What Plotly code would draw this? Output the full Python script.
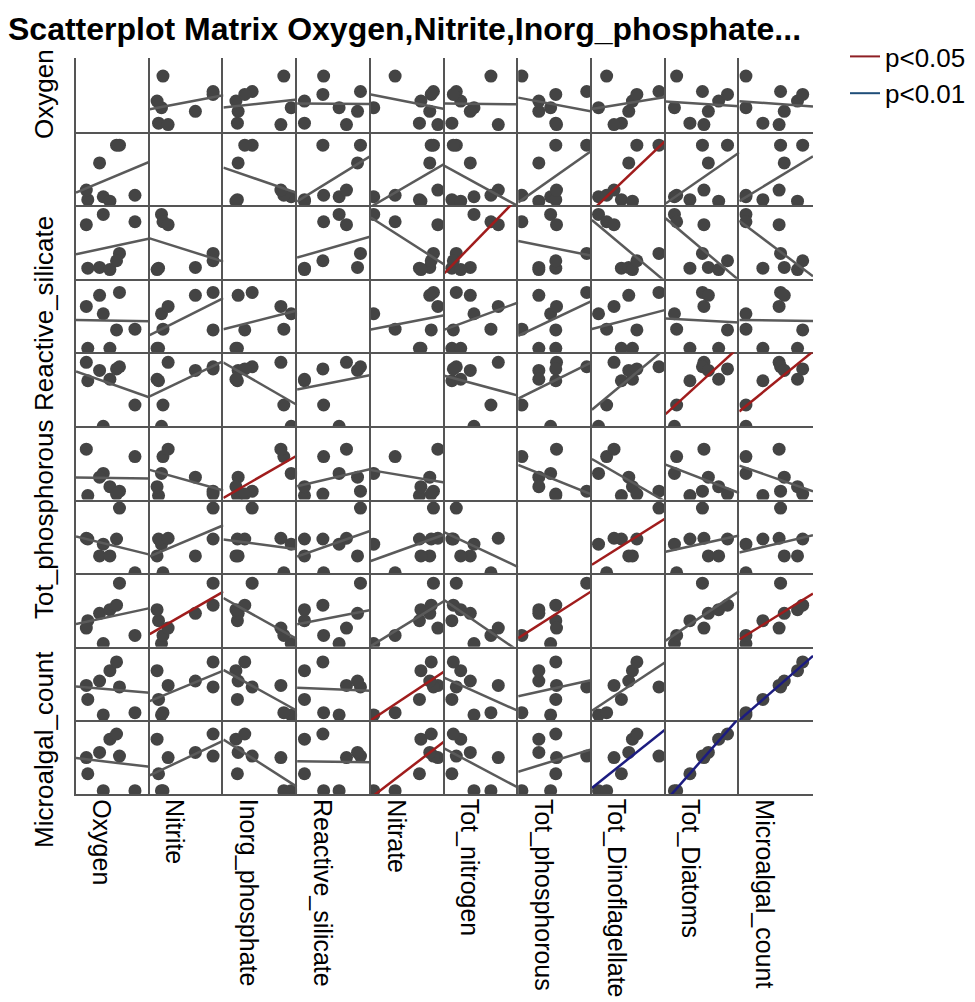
import numpy as np
import plotly.graph_objects as go
from plotly.subplots import make_subplots

# ---- data (in each variable's axis units) ----
variables = ["Oxygen", "Nitrite", "Inorg_phosphate", "Reactive_silicate", "Nitrate",
             "Tot_nitrogen", "Tot_phosphorous", "Tot_Dinoflagellate", "Tot_Diatoms",
             "Microalgal_count"]

oxygen = [0.37, 0.80, 0.16, 0.14, 0.59, 0.32, 0.46, 0.55]
nitrite = [0.16, 0.18, 0.12, 0.25, 0.86, 0.62, 0.10, 0.86]
inorg_phosphate = [0.92, 0.82, 0.19, 0.78, 0.39, 0.20, 0.17, 0.29]
reactive_silicate = [0.57, 0.36, 0.10, 0.67, 0.86, 0.82, 0.10, 0.35]
nitrate = [0.04, 0.33, 0.66, 0.91, 0.85, 0.80, 0.68, 0.82]
tot_nitrogen = [0.40, 0.63, 0.10, 0.73, 0.16, 0.35, 0.22, 0.12]
tot_phosphorous = [0.44, 0.05, 0.51, 0.52, 0.93, 0.28, 0.28, 0.51]
tot_dinoflagellate = [0.09, 0.20, 0.40, 0.30, 0.91, 0.50, 0.55, 0.61]
tot_diatoms = [0.12, 0.15, 0.33, 0.52, 0.50, 0.58, 0.72, 0.84]
microalgal_count = [0.09, 0.09, 0.32, 0.54, 0.56, 0.61, 0.79, 0.86]

series = [oxygen, nitrite, inorg_phosphate, reactive_silicate, nitrate,
          tot_nitrogen, tot_phosphorous, tot_dinoflagellate, tot_diatoms,
          microalgal_count]

# cells (row, col) whose fit line is flagged significant
sig_p05 = [(1, 7), (7, 1), (2, 5), (5, 2), (4, 8), (4, 9), (8, 4), (9, 4),
           (6, 7), (7, 6), (7, 9)]
sig_p01 = [(9, 7), (8, 9), (9, 8)]

row_label_rows = [0, 3, 6, 9]

title_text = "Scatterplot Matrix Oxygen,Nitrite,Inorg_phosphate..."

# ---- styling ----
FONT = "Liberation Sans, Arial, sans-serif"
W, H = 975, 1002
L, R, T, B = 68, 170, 50, 216
X_RANGE = [0.0, 1.0]
Y_RANGE = [0.045, 1.045]
DOT = "#444444"
GRAY = "#5a5a5a"
RED = "#a01c1c"
BLUE = "#1c1c80"
AXIS = "#555555"

n = len(variables)
fig = make_subplots(rows=n, cols=n, horizontal_spacing=0, vertical_spacing=0)

for i in range(n):
    for j in range(n):
        if i == j:
            # empty diagonal cell (keeps its axis lines)
            fig.add_trace(go.Scatter(x=[None], y=[None], mode="markers",
                                     showlegend=False, hoverinfo="skip"),
                          row=i + 1, col=j + 1)
            continue
        x = np.array(series[j], dtype=float)
        y = np.array(series[i], dtype=float)
        fig.add_trace(go.Scatter(x=x, y=y, mode="markers",
                                 marker=dict(size=13, color=DOT),
                                 showlegend=False, hoverinfo="skip"),
                      row=i + 1, col=j + 1)
        slope, icpt = np.polyfit(x, y, 1)
        xs = np.array(X_RANGE)
        ys = slope * xs + icpt
        if (i, j) in sig_p01:
            c = BLUE
        elif (i, j) in sig_p05:
            c = RED
        else:
            c = GRAY
        fig.add_trace(go.Scatter(x=xs, y=ys, mode="lines",
                                 line=dict(color=c, width=2.5),
                                 showlegend=False, hoverinfo="skip"),
                      row=i + 1, col=j + 1)

# legend entries
fig.add_trace(go.Scatter(x=[None], y=[None], mode="lines", name="p<0.05",
                         line=dict(color="#8e1f24", width=2)), row=1, col=1)
fig.add_trace(go.Scatter(x=[None], y=[None], mode="lines", name="p<0.01",
                         line=dict(color="#1f4e79", width=2)), row=1, col=1)

fig.update_xaxes(range=X_RANGE, showline=True, linecolor=AXIS, linewidth=2,
                 showgrid=False, zeroline=False, showticklabels=False, ticks="",
                 fixedrange=True)
fig.update_yaxes(range=Y_RANGE, showline=True, linecolor=AXIS, linewidth=2,
                 showgrid=False, zeroline=False, showticklabels=False, ticks="",
                 fixedrange=True)

pw = W - L - R
ph = H - T - B
cw = pw / n

annotations = []
# column labels (bottom, rotated)
for j, name in enumerate(variables):
    cx = L + cw * (j + 0.5) - 11
    annotations.append(dict(text=name, textangle=90, xref="paper", yref="paper",
                            x=(cx - L) / pw, y=-(789 - (T + ph)) / ph,
                            xanchor="center", yanchor="top", showarrow=False,
                            font=dict(family=FONT, size=25, color="black")))
# row labels (left, rotated)
row_centers = [86, 306, 512, 742]
for r, cy in zip(row_label_rows, row_centers):
    annotations.append(dict(text=variables[r], textangle=-90, xref="paper", yref="paper",
                            x=(36 - L) / pw, y=1 - (cy - T) / ph,
                            xanchor="center", yanchor="middle", showarrow=False,
                            font=dict(family=FONT, size=26, color="black")))

fig.update_layout(
    width=W, height=H,
    margin=dict(l=L, r=R, t=T, b=B, autoexpand=False),
    paper_bgcolor="white", plot_bgcolor="white",
    title=dict(text="<b>" + title_text + "</b>", xref="container", yref="container",
               x=0.0, xanchor="left", y=1 - 21 / H, yanchor="middle",
               pad=dict(l=0, r=0, t=0, b=0),
               font=dict(family=FONT, size=32, color="black")),
    legend=dict(x=(837 - L) / pw, y=1 + (50 - 25) / ph, xanchor="left", yanchor="top",
                font=dict(family=FONT, size=26, color="black"),
                bgcolor="rgba(0,0,0,0)", itemwidth=30, tracegroupgap=0),
    annotations=annotations,
    showlegend=True,
)

fig.write_html("out.html")
